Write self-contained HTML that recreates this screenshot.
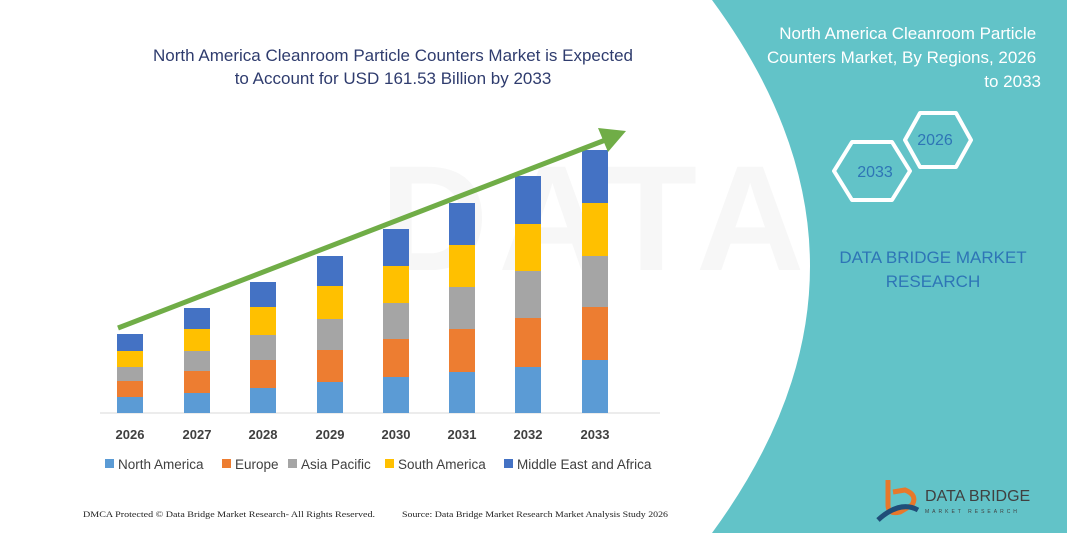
<!DOCTYPE html>
<html><head><meta charset="utf-8"><style>
html,body{margin:0;padding:0;background:#fff}
svg{display:block}
</style></head><body>
<svg width="1067" height="533" xmlns="http://www.w3.org/2000/svg" font-family="Liberation Sans, sans-serif">
<rect width="1067" height="533" fill="#fff"/>
<text x="380" y="270" font-size="150" fill="#f7f7f7" font-weight="bold" letter-spacing="10">DATA</text>
<path d="M712,0 L1067,0 L1067,533 L712,533 Q908,266 712,0 Z" fill="#62c3c8"/>
<text font-size="17" fill="#fff" text-anchor="end">
<tspan x="1041" y="39">North America Cleanroom Particle</tspan>
<tspan x="1041" y="63">Counters Market, By Regions, 2026</tspan>
<tspan x="1041" y="87">to 2033</tspan></text>
<polygon points="834,171 852,142 892,142 910,171 892,200 852,200" fill="none" stroke="#fff" stroke-width="4" stroke-linejoin="round"/>
<polygon points="905,140 920,113 956,113 971,140 956,167 920,167" fill="none" stroke="#fff" stroke-width="4" stroke-linejoin="round"/>
<text x="875" y="177" font-size="16" fill="#2e75b6" text-anchor="middle">2033</text>
<text x="935" y="145" font-size="16" fill="#2e75b6" text-anchor="middle">2026</text>
<text font-size="17" fill="#2e75b6" text-anchor="middle"><tspan x="933" y="263">DATA BRIDGE MARKET</tspan><tspan x="933" y="287">RESEARCH</tspan></text>
<path d="M888,480 L888,505 Q888,515 900,512 L912,505 Q918,495 905,490 L893,492" fill="none" stroke="#e8782a" stroke-width="5"/>
<path d="M878,520 Q900,500 918,510" fill="none" stroke="#1f4e79" stroke-width="5"/>
<text x="925" y="501" font-size="16" fill="#404040">DATA BRIDGE</text>
<text x="925" y="513" font-size="5" fill="#404040" letter-spacing="3">MARKET RESEARCH</text>
<text font-size="17" fill="#2f3c6e" text-anchor="middle"><tspan x="393" y="61">North America Cleanroom Particle Counters Market is Expected</tspan><tspan x="393" y="84">to Account for USD 161.53 Billion by 2033</tspan></text>
<line x1="100" y1="413" x2="660" y2="413" stroke="#d9d9d9"/>
<g>
<rect x="117" y="334" width="26" height="17" fill="#4472c4"/><rect x="117" y="351" width="26" height="16" fill="#ffc000"/><rect x="117" y="367" width="26" height="14" fill="#a5a5a5"/><rect x="117" y="381" width="26" height="16" fill="#ed7d31"/><rect x="117" y="397" width="26" height="16" fill="#5b9bd5"/>
<rect x="184" y="308" width="26" height="21" fill="#4472c4"/><rect x="184" y="329" width="26" height="22" fill="#ffc000"/><rect x="184" y="351" width="26" height="20" fill="#a5a5a5"/><rect x="184" y="371" width="26" height="22" fill="#ed7d31"/><rect x="184" y="393" width="26" height="20" fill="#5b9bd5"/>
<rect x="250" y="282" width="26" height="25" fill="#4472c4"/><rect x="250" y="307" width="26" height="28" fill="#ffc000"/><rect x="250" y="335" width="26" height="25" fill="#a5a5a5"/><rect x="250" y="360" width="26" height="28" fill="#ed7d31"/><rect x="250" y="388" width="26" height="25" fill="#5b9bd5"/>
<rect x="317" y="256" width="26" height="30" fill="#4472c4"/><rect x="317" y="286" width="26" height="33" fill="#ffc000"/><rect x="317" y="319" width="26" height="31" fill="#a5a5a5"/><rect x="317" y="350" width="26" height="32" fill="#ed7d31"/><rect x="317" y="382" width="26" height="31" fill="#5b9bd5"/>
<rect x="383" y="229" width="26" height="37" fill="#4472c4"/><rect x="383" y="266" width="26" height="37" fill="#ffc000"/><rect x="383" y="303" width="26" height="36" fill="#a5a5a5"/><rect x="383" y="339" width="26" height="38" fill="#ed7d31"/><rect x="383" y="377" width="26" height="36" fill="#5b9bd5"/>
<rect x="449" y="203" width="26" height="42" fill="#4472c4"/><rect x="449" y="245" width="26" height="42" fill="#ffc000"/><rect x="449" y="287" width="26" height="42" fill="#a5a5a5"/><rect x="449" y="329" width="26" height="43" fill="#ed7d31"/><rect x="449" y="372" width="26" height="41" fill="#5b9bd5"/>
<rect x="515" y="176" width="26" height="48" fill="#4472c4"/><rect x="515" y="224" width="26" height="47" fill="#ffc000"/><rect x="515" y="271" width="26" height="47" fill="#a5a5a5"/><rect x="515" y="318" width="26" height="49" fill="#ed7d31"/><rect x="515" y="367" width="26" height="46" fill="#5b9bd5"/>
<rect x="582" y="150" width="26" height="53" fill="#4472c4"/><rect x="582" y="203" width="26" height="53" fill="#ffc000"/><rect x="582" y="256" width="26" height="51" fill="#a5a5a5"/><rect x="582" y="307" width="26" height="53" fill="#ed7d31"/><rect x="582" y="360" width="26" height="53" fill="#5b9bd5"/>
</g>
<line x1="118" y1="328" x2="608" y2="139" stroke="#70ad47" stroke-width="5"/>
<polygon points="626,131 598,128 608,152" fill="#70ad47"/>
<g font-size="13" font-weight="bold" fill="#404040" text-anchor="middle">
<text x="130" y="439">2026</text><text x="197" y="439">2027</text><text x="263" y="439">2028</text><text x="330" y="439">2029</text><text x="396" y="439">2030</text><text x="462" y="439">2031</text><text x="528" y="439">2032</text><text x="595" y="439">2033</text></g>
<g font-size="13.5" fill="#404040">
<rect x="105" y="459" width="9" height="9" fill="#5b9bd5"/><text x="118" y="469">North America</text>
<rect x="222" y="459" width="9" height="9" fill="#ed7d31"/><text x="235" y="469">Europe</text>
<rect x="288" y="459" width="9" height="9" fill="#a5a5a5"/><text x="301" y="469">Asia Pacific</text>
<rect x="385" y="459" width="9" height="9" fill="#ffc000"/><text x="398" y="469">South America</text>
<rect x="504" y="459" width="9" height="9" fill="#4472c4"/><text x="517" y="469">Middle East and Africa</text></g>
<g font-family="Liberation Serif, serif" font-size="8.5" fill="#222">
<text x="83" y="517" textLength="292" lengthAdjust="spacingAndGlyphs">DMCA Protected © Data Bridge Market Research-  All Rights Reserved.</text>
<text x="402" y="517" textLength="266" lengthAdjust="spacingAndGlyphs">Source:  Data Bridge Market Research  Market Analysis Study 2026</text></g>
</svg>
</body></html>
